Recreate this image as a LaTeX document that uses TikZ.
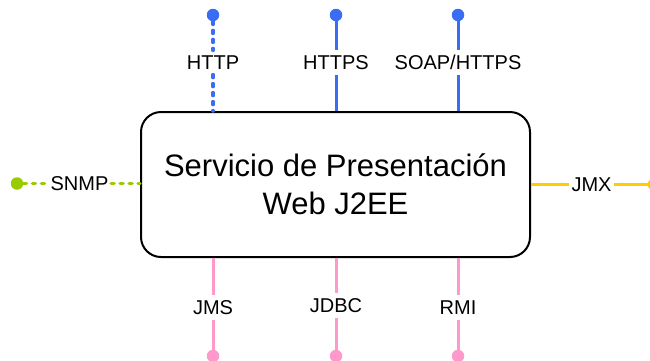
\documentclass[tikz,border=0pt]{standalone}
\usepackage{fontspec}
\setmainfont{Liberation Sans}
\usepackage{tikz}
\usetikzlibrary{positioning}
\definecolor{iblue}{HTML}{3A6CF4}
\definecolor{igreen}{HTML}{99CC00}
\definecolor{iyellow}{HTML}{FFCC00}
\definecolor{ipink}{HTML}{FF99CC}
\tikzset{
  lbl/.style={fill=white,inner xsep=2.5pt,inner ysep=5pt,font=\fontsize{20}{24}\selectfont},
  pin/.style={circle,fill=#1,inner sep=0pt,minimum size=12.5pt},
  link/.style={draw=#1,line width=3pt},
  dotlink/.style={draw=#1,line width=3.5pt,line cap=round,dash pattern=on 3pt off 6pt}
}
\begin{document}
\begin{tikzpicture}[x=1pt,y=-1pt]
    \useasboundingbox (0,0) rectangle (650,360);

    \node[draw,line width=2pt,rounded corners=20pt,minimum width=389pt,minimum height=145pt,
          align=center,font=\fontsize{31}{38}\selectfont] (srv) at (335.5,184.5)
          {Servicio de Presentación\\Web J2EE};

    % top
    \node[pin=iblue] (phttp) at (213,15) {};
    \node[pin=iblue] (phttps) at (336,15) {};
    \node[pin=iblue] (psoap) at (458,15) {};
    \node[lbl] (http) at (213,62.5) {HTTP};
    \node[lbl] (https) at (336,62.5) {HTTPS};
    \node[lbl] (soap) at (458,62.5) {SOAP/HTTPS};
    \draw[dotlink=iblue] (phttp) -- (http);
    \draw[dotlink=iblue] (http) -- (srv.north -| http);
    \draw[link=iblue] (phttps) -- (https);
    \draw[link=iblue] (https) -- (srv.north -| https);
    \draw[link=iblue] (psoap) -- (soap);
    \draw[link=iblue] (soap) -- (srv.north -| soap);

    % bottom
    \node[pin=ipink] (pjms) at (213,356) {};
    \node[pin=ipink] (pjdbc) at (336,356) {};
    \node[pin=ipink] (prmi) at (458,356) {};
    \node[lbl] (jms) at (213,307.5) {JMS};
    \node[lbl] (jdbc) at (336,305.5) {JDBC};
    \node[lbl] (rmi) at (458,307.5) {RMI};
    \draw[link=ipink] (srv.south -| jms) -- (jms);
    \draw[link=ipink] (jms) -- (pjms);
    \draw[link=ipink] (srv.south -| jdbc) -- (jdbc);
    \draw[link=ipink] (jdbc) -- (pjdbc);
    \draw[link=ipink] (srv.south -| rmi) -- (rmi);
    \draw[link=ipink] (rmi) -- (prmi);

    % sides
    \node[pin=igreen] (psnmp) at (17,183.5) {};
    \node[lbl] (snmp) at (79.5,183.5) {SNMP};
    \draw[dotlink=igreen] (psnmp) -- (snmp);
    \draw[dotlink=igreen] (snmp) -- (srv.west |- snmp);
    \node[pin=iyellow] (pjmx) at (654,184.5) {};
    \node[lbl] (jmx) at (591.5,184.5) {JMX};
    \draw[link=iyellow] (srv.east |- jmx) -- (jmx);
    \draw[link=iyellow] (jmx) -- (pjmx);
\end{tikzpicture}
\end{document}
